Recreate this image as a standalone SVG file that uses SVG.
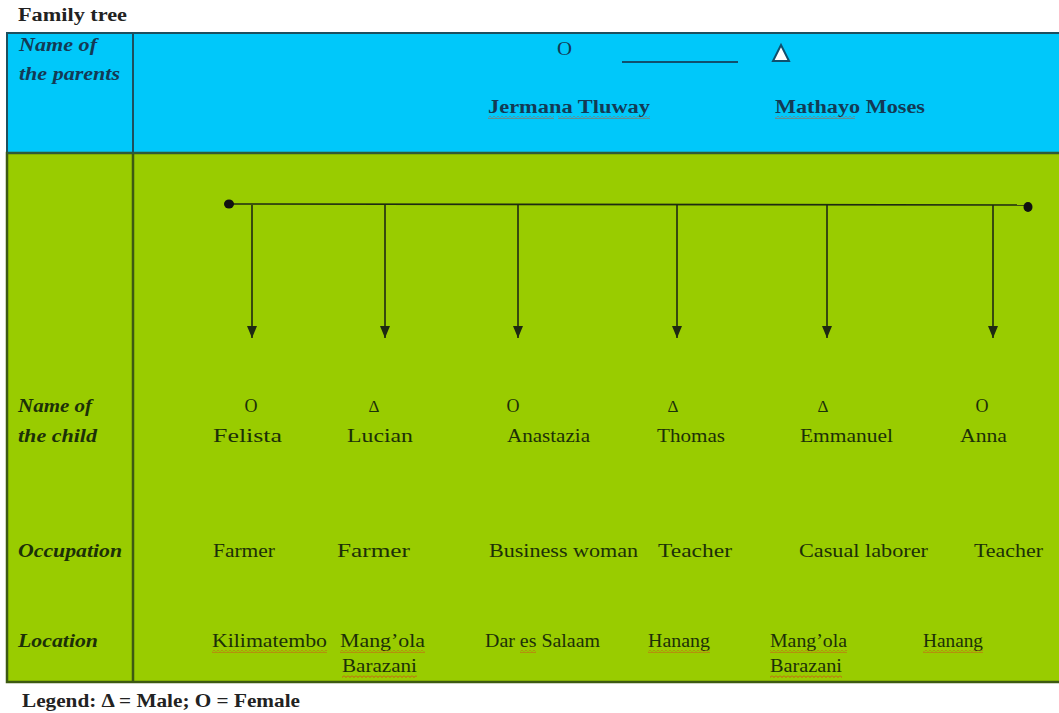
<svg xmlns="http://www.w3.org/2000/svg" width="1059" height="713" viewBox="0 0 1059 713">
<style>
  .t{font-family:"Liberation Serif","Times New Roman",serif;font-size:18px;fill:#1c3008}
  .tb{fill:#133a55}
  .lab{font-weight:bold;font-style:italic}
  .bold{font-weight:bold}
  .sym{font-size:17px}
  .conn{stroke:#1e2a12;stroke-width:1.6;fill:none}
  .wv{fill:url(#wave)}
</style>
<defs>
  <pattern id="wave" x="0" y="0" width="4" height="3" patternUnits="userSpaceOnUse">
    <path d="M0,0.5 L2,2.5 L4,0.5" fill="none" stroke="#d2481a" stroke-width="0.9"/>
  </pattern>
  <marker id="arr" viewBox="0 0 12 10" refX="12" refY="5" markerWidth="12" markerHeight="10" markerUnits="userSpaceOnUse" orient="auto">
    <path d="M0,0 L12,5 L0,10 Z" fill="#1e2a12"/>
  </marker>
</defs>
<rect width="1059" height="713" fill="#ffffff"/>
<text class="t bold" x="18" y="21" textLength="109" lengthAdjust="spacingAndGlyphs" style="fill:#222">Family tree</text>
<!-- table background -->
<rect x="7" y="33" width="1060" height="120" fill="#00c8fa" stroke="#1d4f5e" stroke-width="2"/>
<rect x="7" y="153" width="1060" height="529" fill="#99cc00" stroke="#3d5a12" stroke-width="2.5"/>
<line x1="133" y1="33" x2="133" y2="153" stroke="#1d4f5e" stroke-width="2"/>
<line x1="133" y1="153" x2="133" y2="682" stroke="#3d5a12" stroke-width="2.5"/>
<line x1="7" y1="153" x2="1059" y2="153" stroke="#2e5a3a" stroke-width="2"/>

<g id="row-labels">
  <text class="t tb lab" x="19" y="51" textLength="78" lengthAdjust="spacingAndGlyphs">Name of</text>
  <text class="t tb lab" x="19" y="80" textLength="101" lengthAdjust="spacingAndGlyphs">the parents</text>
  <text class="t lab" x="18" y="412" textLength="74" lengthAdjust="spacingAndGlyphs">Name of</text>
  <text class="t lab" x="18" y="442" textLength="79" lengthAdjust="spacingAndGlyphs">the child</text>
  <text class="t lab" x="18" y="557" textLength="104" lengthAdjust="spacingAndGlyphs">Occupation</text>
  <text class="t lab" x="18" y="647" textLength="80" lengthAdjust="spacingAndGlyphs">Location</text>
</g>

<g id="parents">
  <text class="t tb" x="557" y="55" textLength="15" lengthAdjust="spacingAndGlyphs">O</text>
  <line x1="622" y1="62" x2="738" y2="62" stroke="#10506e" stroke-width="2"/>
  <polygon points="773,61 789,61 781,45" fill="#ffffff" stroke="#10506e" stroke-width="2"/>
  <text class="t tb bold" x="488" y="113" textLength="162" lengthAdjust="spacingAndGlyphs">Jermana Tluway</text>
  <rect class="wv" x="488" y="116" width="66" height="3"/>
  <rect class="wv" x="558" y="116" width="92" height="3"/>
  <text class="t tb bold" x="775" y="113" textLength="150" lengthAdjust="spacingAndGlyphs">Mathayo Moses</text>
  <rect class="wv" x="775" y="116" width="80" height="3"/>
</g>

<g id="connectors">
  <line class="conn" x1="228" y1="204" x2="1030" y2="205" stroke-width="2"/>
  <ellipse cx="229" cy="204" rx="5" ry="4.5" fill="#111"/>
  <ellipse cx="1028" cy="207" rx="4.5" ry="5" fill="#111"/>
  <line class="conn" x1="252" y1="205" x2="252" y2="338" marker-end="url(#arr)"/>
  <line class="conn" x1="385" y1="205" x2="385" y2="338" marker-end="url(#arr)"/>
  <line class="conn" x1="518" y1="205" x2="518" y2="338" marker-end="url(#arr)"/>
  <line class="conn" x1="677" y1="205" x2="677" y2="338" marker-end="url(#arr)"/>
  <line class="conn" x1="827" y1="205" x2="827" y2="338" marker-end="url(#arr)"/>
  <line class="conn" x1="993" y1="205" x2="993" y2="338" marker-end="url(#arr)"/>
</g>

<g id="child-felista">
  <text class="t" x="251" y="412" text-anchor="middle">O</text>
  <text class="t" x="213" y="442" textLength="69" lengthAdjust="spacingAndGlyphs">Felista</text>
  <text class="t" x="213" y="557" textLength="62" lengthAdjust="spacingAndGlyphs">Farmer</text>
  <text class="t" x="212" y="647" textLength="115" lengthAdjust="spacingAndGlyphs">Kilimatembo</text>
  <rect class="wv" x="212" y="650" width="115" height="3"/>
</g>
<g id="child-lucian">
  <text class="t sym" x="374" y="412" text-anchor="middle">Δ</text>
  <text class="t" x="347" y="442" textLength="66" lengthAdjust="spacingAndGlyphs">Lucian</text>
  <text class="t" x="337" y="557" textLength="73" lengthAdjust="spacingAndGlyphs">Farmer</text>
  <text class="t" x="340" y="647" textLength="85" lengthAdjust="spacingAndGlyphs">Mang’ola</text>
  <rect class="wv" x="340" y="650" width="85" height="3"/>
  <text class="t" x="342" y="672" textLength="75" lengthAdjust="spacingAndGlyphs">Barazani</text>
  <rect class="wv" x="342" y="675" width="75" height="3"/>
</g>
<g id="child-anastazia">
  <text class="t" x="513" y="412" text-anchor="middle">O</text>
  <text class="t" x="507" y="442" textLength="83" lengthAdjust="spacingAndGlyphs">Anastazia</text>
  <text class="t" x="489" y="557" textLength="149" lengthAdjust="spacingAndGlyphs">Business woman</text>
  <text class="t" x="485" y="647" textLength="115" lengthAdjust="spacingAndGlyphs">Dar es Salaam</text>
  <rect class="wv" x="520" y="650" width="16" height="3"/>
</g>
<g id="child-thomas">
  <text class="t sym" x="673" y="412" text-anchor="middle">Δ</text>
  <text class="t" x="657" y="442" textLength="68" lengthAdjust="spacingAndGlyphs">Thomas</text>
  <text class="t" x="658" y="557" textLength="74" lengthAdjust="spacingAndGlyphs">Teacher</text>
  <text class="t" x="648" y="647" textLength="62" lengthAdjust="spacingAndGlyphs">Hanang</text>
  <rect class="wv" x="648" y="650" width="62" height="3"/>
</g>
<g id="child-emmanuel">
  <text class="t sym" x="823" y="412" text-anchor="middle">Δ</text>
  <text class="t" x="800" y="442" textLength="93" lengthAdjust="spacingAndGlyphs">Emmanuel</text>
  <text class="t" x="799" y="557" textLength="129" lengthAdjust="spacingAndGlyphs">Casual laborer</text>
  <text class="t" x="770" y="647" textLength="77" lengthAdjust="spacingAndGlyphs">Mang’ola</text>
  <rect class="wv" x="770" y="650" width="77" height="3"/>
  <text class="t" x="770" y="672" textLength="72" lengthAdjust="spacingAndGlyphs">Barazani</text>
  <rect class="wv" x="770" y="675" width="72" height="3"/>
</g>
<g id="child-anna">
  <text class="t" x="982" y="412" text-anchor="middle">O</text>
  <text class="t" x="960" y="442" textLength="47" lengthAdjust="spacingAndGlyphs">Anna</text>
  <text class="t" x="974" y="557" textLength="69" lengthAdjust="spacingAndGlyphs">Teacher</text>
  <text class="t" x="923" y="647" textLength="60" lengthAdjust="spacingAndGlyphs">Hanang</text>
  <rect class="wv" x="923" y="650" width="60" height="3"/>
</g>

<g id="legend">
  <text class="t bold" x="22" y="707" textLength="278" lengthAdjust="spacingAndGlyphs" style="fill:#222;font-size:19px">Legend: Δ = Male;  O = Female</text>
</g>
</svg>
